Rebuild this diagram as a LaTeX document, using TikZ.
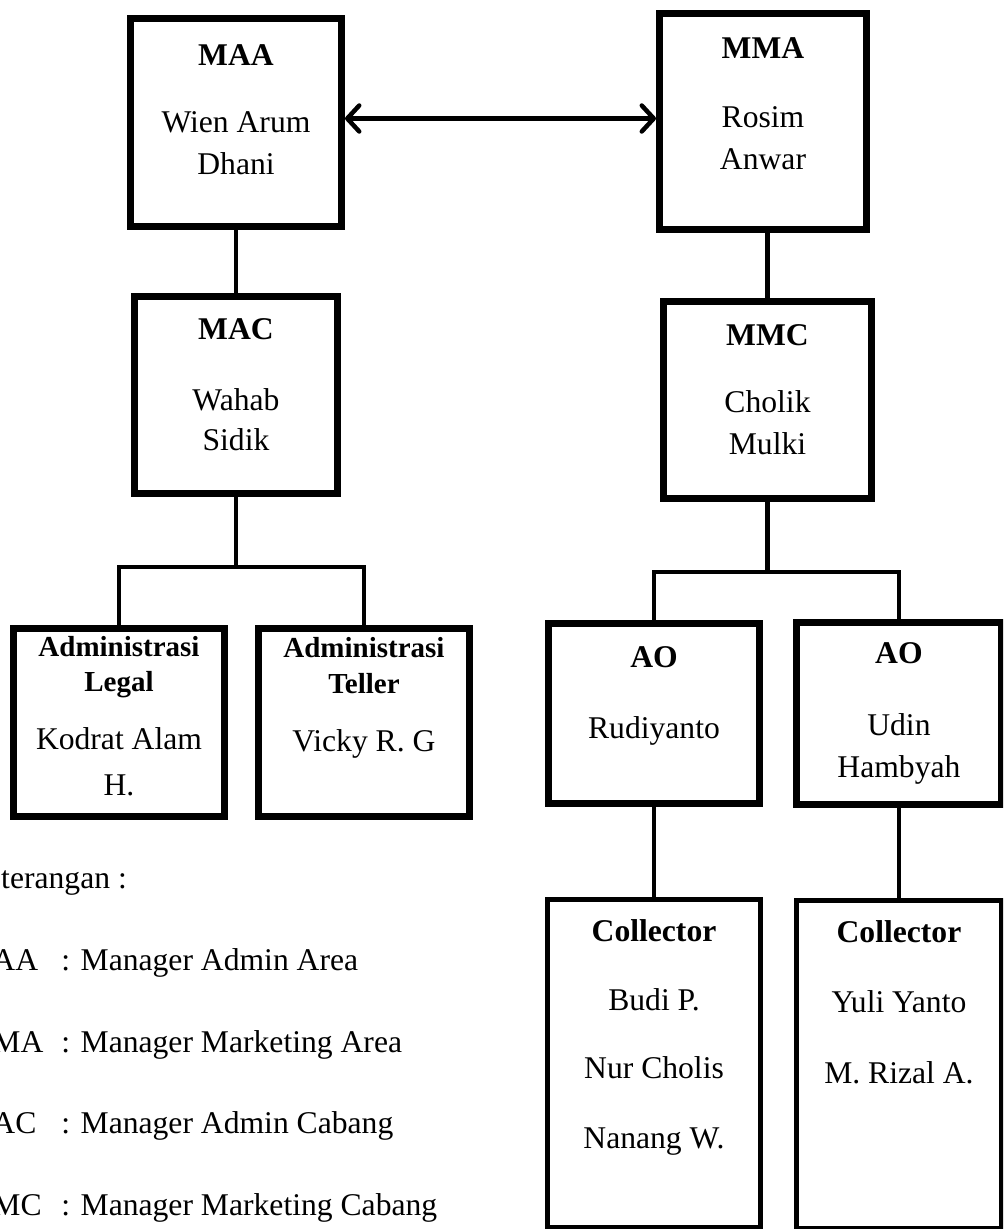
\documentclass[tikz,border=0pt]{standalone}
\usepackage{fontspec}
\setmainfont{Liberation Serif}
\usepackage{tikz}
\usetikzlibrary{positioning, arrows.meta}
\newdimen\px
\px=0.02cm
\newcommand{\padd}[1]{\rule[-#1]{0pt}{#1}}
\newcommand{\subhead}[1]{{\fontsize{16.5}{20}\selectfont\textbf{#1}}}
\tikzset{
  >={Straight Barb[length=0.24cm, width=0.52cm, round]},
  every node/.style={font=\fontsize{18}{24}\selectfont},
  box/.style={draw, line width=0.14cm, align=flush center, text width=3.9cm, inner sep=0pt},
  thinbox/.style={box, line width=0.1cm},
  link/.style={line width=0.09cm},
  legend/.style={inner sep=0pt, anchor=base west},
}

\begin{document}
\begin{tikzpicture}[x=0.02cm, y=-0.02cm]
  \useasboundingbox (0,0) rectangle (1003,1229);
  \clip (0,0) rectangle (1003,1229);

  % area
  \node[box, minimum width=4.22cm, minimum height=4.16cm] (maa) at (236,122.5)
    {\textbf{MAA}\\[25\px] Wien Arum\\ Dhani\padd{25.5\px}};
  \node[box, minimum width=4.14cm, minimum height=4.32cm] (mma) at (763,121.5)
    {\textbf{MMA}\\[27\px] Rosim\\ Anwar\padd{35.5\px}};

  % cabang
  \node[box, minimum width=4.06cm, minimum height=3.94cm, below=1.26cm of maa] (mac)
    {\textbf{MAC}\\[28\px] Wahab\\[-2\px] Sidik\padd{20.5\px}};
  \node[box, minimum width=4.16cm, minimum height=3.94cm] (mmc) at (767.5,400)
    {\textbf{MMC}\\[25\px] Cholik\\ Mulki\padd{21.5\px}};

  % admin
  \node[box, minimum width=4.22cm, minimum height=3.76cm] (legal) at (119,722.5)
    {\subhead{Administrasi}\\[-7\px] \subhead{Legal}\\[16\px] Kodrat Alam\\[3\px] H.\padd{13.5\px}};
  \node[box, minimum width=4.22cm, minimum height=3.76cm, right=0.54cm of legal] (teller)
    {\subhead{Administrasi}\\[-7\px] \subhead{Teller}\\[16\px] Vicky R. G\padd{55.8\px}};

  % marketing
  \node[box, minimum width=4.22cm, minimum height=3.6cm] (ao1) at (654,713.5)
    {\textbf{AO}\\[29\px] Rudiyanto\padd{41.8\px}};
  \node[box, minimum width=4.1cm, minimum height=3.66cm, right=0.6cm of ao1] (ao2)
    {\textbf{AO}\\[29\px] Udin\\ Hambyah};
  \node[thinbox, minimum width=4.26cm, minimum height=6.56cm, below=1.8cm of ao1] (coll1)
    {\textbf{Collector}\\[27\px] Budi P.\\[26\px] Nur Cholis\\[27\px] Nanang W.\padd{59\px}};
  \node[thinbox, minimum width=4.1cm, minimum height=6.56cm, below=1.8cm of ao2] (coll2)
    {\textbf{Collector}\\[28\px] Yuli Yanto\\[29\px] M. Rizal A.\padd{126\px}};

  % lines
  \draw[link, <->] ([yshift=0.08cm]maa.east) -- ([yshift=0.08cm]maa.east -| mma.west);
  \draw[link] (maa) -- (mac);
  \draw[link] (mmc.north) -- (mmc.north |- mma.south);

  \coordinate (macbar) at (236,567);
  \draw[link] (mac) -- (macbar);
  \draw[link] (legal.north) |- (macbar) -| (teller.north);

  \coordinate (mmcbar) at (767.5,572);
  \draw[link] (mmc) -- (mmcbar);
  \draw[link] (ao1.north) |- (mmcbar) -| (ao2.north);

  \draw[link] (ao1) -- (coll1);
  \draw[link] (ao2) -- (coll2);

  % keterangan
  \node[legend] (ket) at (-36,888) {Keterangan :};
  \node[legend] (kmaa) at (-36,970) {MAA};
  \node[legend] (kmaa-d) at (61,970) {: Manager Admin Area};
  \node[legend] (kmma) at (-36,1052) {MMA};
  \node[legend] (kmma-d) at (61,1052) {: Manager Marketing Area};
  \node[legend] (kmac) at (-36,1133) {MAC};
  \node[legend] (kmac-d) at (61,1133) {: Manager Admin Cabang};
  \node[legend] (kmmc) at (-36,1215) {MMC};
  \node[legend] (kmmc-d) at (61,1215) {: Manager Marketing Cabang};
\end{tikzpicture}
\end{document}
